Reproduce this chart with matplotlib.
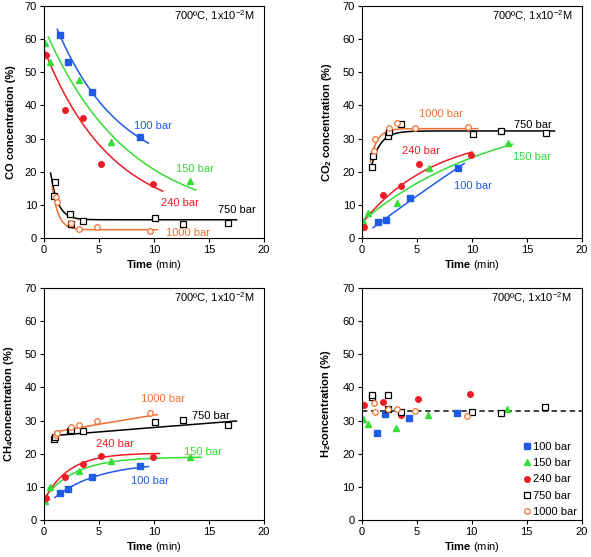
import numpy as np
import matplotlib
matplotlib.use("Agg")
import matplotlib.pyplot as plt

plt.rcParams['font.family'] = ['Liberation Sans', 'DejaVu Sans']
plt.rcParams['mathtext.fontset'] = 'custom'
plt.rcParams['mathtext.rm'] = 'Liberation Sans'
plt.rcParams['mathtext.it'] = 'Liberation Sans'
plt.rcParams['mathtext.bf'] = 'Liberation Sans:bold'

# sampling times (min) for each pressure
t100 = [1.45, 2.18, 4.35, 8.7]
t150 = [0.12, 0.58, 3.17, 6.05, 13.25]
t240 = [0.22, 1.94, 3.57, 5.18, 9.9]
t750 = [0.92, 0.97, 2.38, 2.42, 3.55, 10.06, 12.67, 16.7]
t1000 = [1.1, 1.22, 2.45, 3.22, 4.85, 9.6]

labels = ['100 bar', '150 bar', '240 bar', '750 bar', '1000 bar']

# gas concentrations (%)
co100 = [61.3, 53.1, 44.0, 30.5]
co150 = [58.7, 53.2, 47.8, 28.9, 17.2]
co240 = [55.1, 38.7, 36.1, 22.3, 16.4]
co750 = [12.6, 16.9, 7.3, 4.3, 5.0, 6.0, 4.1, 4.6]
co1000 = [12.3, 11.0, 4.4, 2.6, 3.2, 2.1]

co2_100 = [4.9, 5.4, 12.2, 21.0]
co2_150 = [5.1, 7.6, 10.6, 21.2, 28.6]
co2_240 = [3.4, 13.0, 15.6, 22.2, 25.0]
co2_750 = [21.4, 24.6, 30.9, 32.1, 34.5, 31.5, 32.4, 31.8]
co2_1000 = [26.2, 30.0, 33.3, 34.6, 33.2, 33.6]

ch4_100 = [8.1, 9.5, 13.1, 16.3]
ch4_150 = [5.7, 10.1, 14.7, 17.8, 19.1]
ch4_240 = [6.7, 13.1, 16.8, 19.2, 19.1]
ch4_750 = [24.3, 25.0, 27.0, 27.3, 27.0, 29.5, 30.1, 28.6]
ch4_1000 = [25.6, 26.4, 28.1, 28.6, 29.9, 32.4]

h2_100 = [26.1, 32.0, 30.8, 32.2]
h2_150 = [30.5, 29.1, 27.7, 31.7, 33.4]
h2_240 = [34.8, 35.5, 31.8, 36.4, 38.1]
h2_750 = [37.0, 37.7, 37.8, 33.5, 32.7, 32.6, 32.4, 34.2]
h2_1000 = [35.4, 32.6, 33.4, 33.6, 33.0, 31.5]
h2_avg = 33

# trend lines: (t_start, t_end, y_start, asymptote, rate) for y = a + (y0-a)*exp(-k(t-t0))
co_fit = [(1.2, 9.5, 63, 18, 0.174), (0.4, 13.8, 60.6, 5, 0.132), (0.0, 10.8, 56.9, 5, 0.161),
          (0.6, 17.5, 19.6, 5.5, 1.5), (0.75, 10.3, 15.5, 2.5, 1.8)]
co2_fit = [(1.0, 9.3, 3.1, 200, 0.0125), (0.0, 13.7, 5.0, 40, 0.08), (0.0, 10.0, 4.5, 32.1, 0.15),
           (0.8, 17.5, 21, 32.3, 1.2), (0.75, 10.5, 23, 33, 1.6)]
ch4_fit = [(1.0, 9.5, 6.8, 17.4, 0.25), (0.0, 14.3, 6.5, 19, 0.35), (0.1, 10.5, 6.5, 20.2, 0.45),
           (1.0, 17.5, 25.5, 100, 0.00366), (1.0, 10.3, 26.6, 100, 0.0079)]

colors = ['#1f5ce6', '#33dd33', '#ee1c25', 'black', '#f07030']
markers = ['s', '^', 'o', 's', 'o']
filled = [True, True, True, False, False]
times = [t100, t150, t240, t750, t1000]

fig = plt.figure(figsize=(5.91, 5.57), dpi=100)
W, H = 591, 557
boxes = [(44, 6), (362, 6), (44, 288), (361.5, 288)]
axes = []
for (x0, y0) in boxes:
    axes.append(fig.add_axes([x0 / W, 1 - (y0 + 232) / H, 220 / W, 232 / H]))


def scatter(ax, ys):
    for i in range(5):
        kw = dict(marker=markers[i], linestyle='none', ms=4 if markers[i] != '^' else 3.8,
                  color=colors[i], label=labels[i])
        if not filled[i]:
            kw.update(mfc='white', mec=colors[i], mew=0.9)
        else:
            kw.update(mec=colors[i])
        ax.plot(times[i], ys[i], **kw)


def fits(ax, params):
    for i, (t0, t1, y0, a, k) in enumerate(params):
        t = np.linspace(t0, t1, 200)
        ax.plot(t, a + (y0 - a) * np.exp(-k * (t - t0)), color=colors[i], lw=1.1, zorder=1)


def style(ax, ylab):
    ax.set_xlim(0, 20)
    ax.set_ylim(0, 70)
    ax.set_xticks([0, 5, 10, 15, 20])
    ax.set_yticks(range(0, 71, 10))
    ax.tick_params(direction='out', length=3, width=0.8, labelsize=8, pad=2)
    for s in ax.spines.values():
        s.set_linewidth(0.8)
    ax.set_xlabel(r'$\mathbf{Time}$ (min)', fontsize=8, labelpad=2)
    ax.set_ylabel(ylab, fontsize=8, fontweight='bold', labelpad=6.5)
    ax.text(0.955, 0.957, r'700ºC, 1x10$^{-2}$M', transform=ax.transAxes, ha='right',
            va='center', fontsize=8)


def tags(ax, pos):
    for i, (x, y) in enumerate(pos):
        ax.text(x, y, labels[i], color=colors[i], fontsize=8, ha='left', va='center')


ax = axes[0]
fits(ax, co_fit)
scatter(ax, [co100, co150, co240, co750, co1000])
style(ax, 'CO concentration (%)')
tags(ax, [(8.15, 33.7), (12.0, 20.7), (10.6, 10.7), (15.8, 8.3), (11.1, 1.4)])

ax = axes[1]
fits(ax, co2_fit)
scatter(ax, [co2_100, co2_150, co2_240, co2_750, co2_1000])
style(ax, r'CO$_\mathbf{2}$ concentration (%)')
tags(ax, [(8.4, 15.7), (13.7, 24.5), (3.6, 26.4), (13.8, 34.0), (5.2, 37.4)])

ax = axes[2]
fits(ax, ch4_fit)
scatter(ax, [ch4_100, ch4_150, ch4_240, ch4_750, ch4_1000])
style(ax, r'CH$_\mathbf{4}$concentration (%)')
tags(ax, [(7.9, 11.8), (12.7, 20.5), (4.75, 22.8), (13.5, 31.5), (8.85, 36.5)])

ax = axes[3]
ax.axhline(h2_avg, color='#333333', lw=1.3, ls=(0, (3, 2)), zorder=1)
scatter(ax, [h2_100, h2_150, h2_240, h2_750, h2_1000])
style(ax, r'H$_\mathbf{2}$concentration (%)')
ax.legend(loc='lower right', frameon=False, fontsize=8, handletextpad=0.25,
          handlelength=0.6, labelspacing=0.55, borderaxespad=0.0, bbox_to_anchor=(1.0, -0.005))

fig.savefig('out.png', dpi=100)
